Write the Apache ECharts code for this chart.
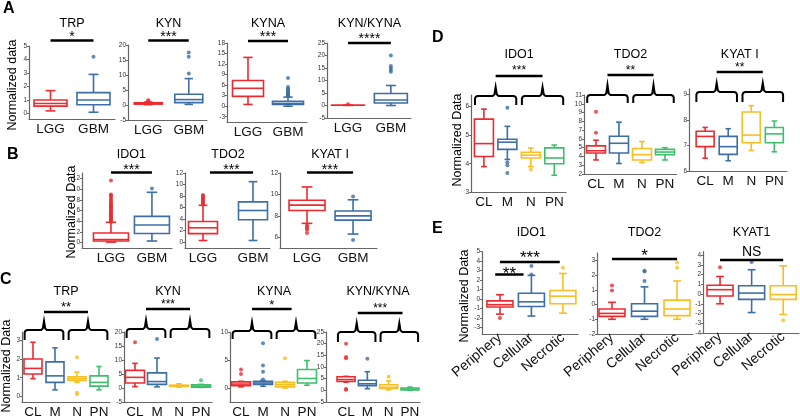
<!DOCTYPE html>
<html><head><meta charset="utf-8">
<script src="https://cdn.jsdelivr.net/npm/echarts@6/dist/echarts.min.js"></script>
<style>html,body{margin:0;padding:0;background:#fff}#c{width:800px;height:419px}</style>
</head><body><div id="c"></div>
<script>
// ---------- categories ----------
const catsGlioma = ['LGG', 'GBM'];
const catsSubtype = ['CL', 'M', 'N', 'PN'];
const catsRegion = ['Periphery', 'Cellular', 'Necrotic'];

// ---------- box stats [min, Q1, median, Q3, max] and outliers ----------
// Panel A
const A_TRP_box = [[0.2, 0.55, 0.75, 1.0, 1.7], [0.1, 0.65, 1.0, 1.55, 2.9]];
const A_TRP_out = [[], [4.2]];
const A_KYN_box = [[0.1, 0.3, 0.5, 0.75, 1.0], [0.2, 0.8, 1.8, 3.6, 8.8]];
const A_KYN_out = [[1.3, 1.6], [10.5, 16.1, 17.5]];
const A_KYNA_box = [[0.5, 2.8, 5.1, 7.3, 13.9], [0.0, 0.5, 0.8, 1.4, 2.6]];
const A_KYNA_out = [[], [2.8, 3.0, 3.2, 3.4, 3.6, 3.8, 4.0, 4.3, 4.6, 5.0, 5.5, 8.0]];
const A_RATIO_box = [[0.05, 0.08, 0.1, 0.12, 0.15], [0.0, 1.0, 2.2, 4.8, 8.0]];
const A_RATIO_out = [[0.5], [13.5, 14.2, 15.0, 15.8, 20.0]];
// Panel B
const B_IDO1_box = [[0.1, 0.3, 0.6, 1.8, 3.8], [0.3, 1.7, 3.3, 4.9, 9.4]];
const B_IDO1_out = [[3.9, 4.1, 4.3, 4.5, 4.7, 4.9, 5.1, 5.3, 5.5, 5.7, 5.9, 6.1, 6.3, 6.5, 6.7, 6.9, 7.1, 7.3, 7.6, 7.9, 8.2, 8.5, 8.8, 9.0, 11.6], [10.1]];
const B_TDO2_box = [[0.3, 1.5, 2.5, 3.6, 6.4], [0.3, 3.9, 5.5, 7.0, 10.5]];
const B_TDO2_out = [[6.6, 6.8, 7.0, 7.2, 7.4, 7.6, 7.8, 8.0, 8.2], []];
const B_KYAT_box = [[7.3, 8.5, 9.0, 9.45, 10.7], [6.3, 7.6, 8.0, 8.45, 9.5]];
const B_KYAT_out = [[7.15, 7.0, 6.85, 6.7, 6.4], [5.75, 9.8]];
// Panel C
const C_TRP_box = [[0.95, 1.2, 1.5, 2.0, 2.9], [0.35, 0.75, 1.1, 1.85, 2.6], [0.75, 0.85, 0.95, 1.05, 1.3], [0.35, 0.55, 0.75, 1.1, 1.6]];
const C_TRP_out = [[], [], [2.1, 0.2, 0.12], []];
const C_KYN_box = [[0.5, 1.8, 3.8, 6.3, 8.8], [0.4, 1.3, 2.3, 5.4, 10.7], [0.3, 0.6, 0.8, 1.0, 1.5], [0.2, 0.3, 0.6, 1.1, 1.3]];
const C_KYN_out = [[16.3], [17.5], [], [2.8]];
const C_KYNA_box = [[0.2, 0.4, 0.7, 1.1, 1.2], [0.3, 0.65, 0.9, 1.2, 1.35], [0.0, 0.2, 0.6, 1.0, 1.2], [0.5, 0.9, 1.7, 3.3, 4.9]];
const C_KYNA_out = [[2.5, 3.3], [1.5, 2.9, 4.0, 8.0], [5.3], []];
const C_RATIO_box = [[3.5, 3.8, 4.6, 5.8, 6.0], [0.7, 2.0, 2.8, 4.3, 8.0], [0.2, 0.8, 1.3, 2.4, 4.0], [0.0, 0.2, 0.5, 1.0, 1.4]];
const C_RATIO_out = [[0.3, 0.6, 13.8, 14.3, 20.0], [13.5], [5.8], []];
// Panel D
const D_IDO1_box = [[3.9, 4.25, 4.7, 5.55, 5.9], [4.15, 4.5, 4.75, 4.85, 5.3], [3.9, 4.2, 4.3, 4.4, 4.55], [3.6, 4.0, 4.2, 4.55, 4.65]];
const D_IDO1_out = [[], [5.95, 4.05, 3.95, 3.68], [3.8], []];
const D_TDO2_box = [[3.6, 4.4, 4.65, 5.2, 5.85], [3.2, 4.4, 5.5, 6.3, 7.9], [3.3, 3.6, 4.2, 4.9, 5.7], [3.6, 4.2, 4.5, 4.8, 5.0]];
const D_TDO2_out = [[6.7, 9.1], [], [], []];
const D_KYAT_box = [[6.5, 6.95, 7.35, 7.55, 7.7], [6.4, 6.65, 6.95, 7.35, 7.65], [6.8, 7.1, 7.4, 8.3, 8.55], [6.75, 7.1, 7.45, 7.7, 7.95]];
const D_KYAT_out = [[], [], [], []];
// Panel E
const E_IDO1_box = [[-1.6, -0.85, -0.6, -0.2, 0.45], [-1.8, -0.8, -0.3, 0.6, 2.5], [-1.5, -0.5, 0.3, 0.9, 2.7]];
const E_IDO1_out = [[-2.0], [2.6, 3.5], [3.3]];
const E_TDO2_box = [[-1.0, -0.8, -0.6, -0.3, 0.15], [-1.0, -0.8, -0.45, 0.05, 1.2], [-1.0, -0.75, -0.3, 0.3, 1.6]];
const E_TDO2_out = [[0.95, 1.3], [1.6, 2.25, 2.3], [2.5, 2.85]];
const E_KYAT_box = [[-1.0, -0.2, 0.45, 0.9, 1.8], [-1.9, -0.55, 0.1, 0.85, 2.5], [-2.1, -0.55, -0.05, 0.85, 2.9]];
const E_KYAT_out = [[2.75], [3.3], [-2.7]];

// ---------- y tick labels ----------
const ticksA_TRP = [0, 1, 2, 3, 4, 5];
const ticksA_KYN = [-5, 0, 5, 10, 15, 20];
const ticksA_KYNA = [-3, 0, 3, 6, 9, 12, 15, 18];
const ticksA_RATIO = [-5, 0, 5, 10, 15, 20, 25];
const ticksB_IDO1 = [0, 2, 4, 6, 8, 10, 12];
const ticksB_TDO2 = [0, 2, 4, 6, 8, 10, 12];
const ticksB_KYAT = [6, 8, 10, 12];
const ticksC_TRP = [0, 1, 2, 3];
const ticksC_KYN = [-5, 0, 5, 10, 15, 20];
const ticksC_KYNA = [0, 5, 10];
const ticksC_RATIO = [-5, 0, 5, 10, 15, 20, 25];
const ticksD_IDO1 = [3, 4, 5, 6];
const ticksD_TDO2 = [2, 3, 4, 5, 6, 7, 8, 9, 10, 11];
const ticksD_KYAT = [6, 7, 8, 9];
const ticksE_IDO1 = [-3, -2, -1, 0, 1, 2, 3, 4, 5];
const ticksE_TDO2 = [-2, -1, 0, 1, 2, 3];
const ticksE_KYAT = [-4, -3, -2, -1, 0, 1, 2, 3, 4];

// ---------- styling ----------
const FF = '"Liberation Sans", Arial, Helvetica, sans-serif';
const RED = '#ee2a2f', BLUE = '#3c6ea7', YEL = '#fbbd22', GRN = '#3fbf6c';
const COL2 = [RED, BLUE], COL4 = [RED, BLUE, YEL, GRN], COL3 = [RED, BLUE, YEL];
const AX = '#666';

// layout: g = [left, right, top, bottom] in px; xr / yr axis ranges;
// sigs: [fromCat, toCat, lineY, text, textY, fontSize]; br: brace y [peak, mid, legs]
const plots = [
  {title:'TRP', cats:catsGlioma, box:A_TRP_box, out:A_TRP_out, ticks:ticksA_TRP, col:COL2, g:[29,115,46,119], xr:[-0.5,1.5], yr:[-0.4,5], bw:33, ty:24, sigs:[[0,1,40.5,'*',34,14]]},
  {title:'KYN', cats:catsGlioma, box:A_KYN_box, out:A_KYN_out, ticks:ticksA_KYN, col:COL2, g:[128,207,45,120], xr:[-0.5,1.45], yr:[-5,20], bw:28, ty:24, sigs:[[0,1,40.5,'***',34,14]]},
  {title:'KYNA', cats:catsGlioma, box:A_KYNA_box, out:A_KYNA_out, ticks:ticksA_KYNA, col:COL2, g:[227,307,43,122], xr:[-0.525,1.475], yr:[-4.5,18], bw:31, ty:24, sigs:[[0,1,41,'***',34,14]]},
  {title:'KYN/KYNA', cats:catsGlioma, box:A_RATIO_box, out:A_RATIO_out, ticks:ticksA_RATIO, col:COL2, g:[327,411,43,118], xr:[-0.49,1.47], yr:[-5,25], bw:33, ty:24, sigs:[[0,1,43,'****',36,14]]},

  {title:'IDO1', cats:catsGlioma, box:B_IDO1_box, out:B_IDO1_out, ticks:ticksB_IDO1, col:COL2, g:[82,172,173,248], xr:[-0.707,1.49], yr:[-1,13], bw:35, ty:155, sigs:[[0,1,172.5,'***',167,14]]},
  {title:'TDO2', cats:catsGlioma, box:B_TDO2_box, out:B_TDO2_out, ticks:ticksB_TDO2, col:COL2, g:[185,270,173,248], xr:[-0.36,1.34], yr:[-1,12], bw:29, ty:155, sigs:[[0.14,1,172.5,'***',167,14]]},
  {title:'KYAT I', cats:catsGlioma, box:B_KYAT_box, out:B_KYAT_out, ticks:ticksB_KYAT, col:COL2, g:[280,377,173,248], xr:[-0.587,1.52], yr:[5,12], bw:36, ty:155, sigs:[[0,1,172.5,'***',167,14]]},

  {title:'TRP', cats:catsSubtype, box:C_TRP_box, out:C_TRP_out, ticks:ticksC_TRP, col:COL4, g:[22,110,332,406], xr:[-0.5,3.5], yr:[-0.3,3.45], bw:18, ty:292, sigs:[[0.5,2.5,312,'**',304,13]], br:[321,330,340]},
  {title:'KYN', cats:catsSubtype, box:C_KYN_box, out:C_KYN_out, ticks:ticksC_KYN, col:COL4, g:[124,212,332,407], xr:[-0.5,3.5], yr:[-5,20], bw:19, ty:292, sigs:[[0.5,2.5,309,'***',302,12]], br:[320,329,338]},
  {title:'KYNA', cats:catsSubtype, box:C_KYNA_box, out:C_KYNA_out, ticks:ticksC_KYNA, col:COL4, g:[230,318,332,407], xr:[-0.5,3.5], yr:[-2.5,10], bw:19, ty:292, sigs:[[0.5,2.3,309,'*',302,13]], br:[322,331,339]},
  {title:'KYN/KYNA', cats:catsSubtype, box:C_RATIO_box, out:C_RATIO_out, ticks:ticksC_RATIO, col:COL4, g:[326,420,332,407], xr:[-0.94,3.47], yr:[-5,25], bw:18, ty:292, sigs:[[0.55,2.65,313,'***',306,12]], br:[323,332,342]},

  {title:'IDO1', cats:catsSubtype, box:D_IDO1_box, out:D_IDO1_out, ticks:ticksD_IDO1, col:COL4, g:[471,566,95,192.5], xr:[-0.55,3.5], yr:[3,6.39], bw:19, ty:55, sigs:[[0.5,2.5,76,'***',68,12]], br:[87,96,105]},
  {title:'TDO2', cats:catsSubtype, box:D_TDO2_box, out:D_TDO2_out, ticks:ticksD_TDO2, col:COL4, g:[584,676.5,95,174], xr:[-0.52,3.5], yr:[2,11], bw:19, ty:55, sigs:[[0.5,2.5,75,'**',68,12]], br:[85,95,103]},
  {title:'KYAT I', cats:catsSubtype, box:D_KYAT_box, out:D_KYAT_out, ticks:ticksD_KYAT, col:COL4, g:[689,787,89,171], xr:[-0.7,3.55], yr:[6,9.2], bw:18, ty:55, sigs:[[0.5,2.5,72,'**',65,12]], br:[83,92,102]},

  {title:'IDO1', cats:catsRegion, box:E_IDO1_box, out:E_IDO1_out, ticks:ticksE_IDO1, col:COL3, g:[482,578,251.7,334], xr:[-0.57,2.48], yr:[-3.7,5], bw:26, ty:233, rot:40, sigs:[[-0.15,0.75,274.5,'**',270,17],[0,1.9,262,'***',254,17]]},
  {title:'TDO2', cats:catsRegion, box:E_TDO2_box, out:E_TDO2_out, ticks:ticksE_TDO2, col:COL3, g:[597,693,253,334], xr:[-0.46,2.49], yr:[-2,3.5], bw:26, ty:233, rot:40, sigs:[[0,2,259,'*',252,17]]},
  {title:'KYAT1', cats:catsRegion, box:E_KYAT_box, out:E_KYAT_out, ticks:ticksE_KYAT, col:COL3, g:[703,799,251.7,333], xr:[-0.54,2.5], yr:[-4,4.35], bw:26, ty:233, rot:40, sigs:[[0,2,260,'NS',252,14]]}
];

const yLabels = [
  {t:'Normalized data', x:13, y:85},
  {t:'Normalized Data', x:72, y:212},
  {t:'Normalized Data', x:7, y:366},
  {t:'Normalized Data', x:458, y:140},
  {t:'Normalized Data', x:465, y:296}
];
const letters = [
  {t:'A', x:3, y:8.5}, {t:'B', x:7, y:155}, {t:'C', x:0, y:280}, {t:'D', x:432, y:37.5}, {t:'E', x:432, y:229}
];

function boxRenderer(p) {
  return function (params, api) {
    const k = api.value(0);
    const c = p.col[k];
    const P = [1, 2, 3, 4, 5].map(d => api.coord([k, api.value(d)]));
    const cx = P[0][0], hw = p.bw / 2, cw = p.bw * 0.15;
    const st = () => ({stroke: c, lineWidth: 1.6, fill: null});
    const line = (x1, y1, x2, y2) => ({type: 'line', shape: {x1, y1, x2, y2}, style: st()});
    return {type: 'group', children: [
      line(cx, P[3][1], cx, P[4][1]),
      line(cx, P[0][1], cx, P[1][1]),
      line(cx - cw, P[4][1], cx + cw, P[4][1]),
      line(cx - cw, P[0][1], cx + cw, P[0][1]),
      {type: 'rect', shape: {x: cx - hw, y: P[3][1], width: p.bw, height: P[1][1] - P[3][1]}, style: {stroke: c, lineWidth: 1.6, fill: '#fff'}},
      line(cx - hw, P[2][1], cx + hw, P[2][1])
    ]};
  };
}

const chart = echarts.init(document.getElementById('c'), null, {renderer: 'canvas'});
const option = {animation: false, backgroundColor: '#fff', grid: [], xAxis: [], yAxis: [], series: []};
plots.forEach((p, i) => {
  const [l, r, t, b] = p.g;
  option.grid.push({left: l, top: t, width: r - l, height: b - t});
  option.xAxis.push({
    type: 'value', gridIndex: i, min: p.xr[0], max: p.xr[1],
    splitLine: {show: false}, axisTick: {show: false},
    axisLine: {show: true, onZero: false, lineStyle: {color: AX, width: 1.2}},
    axisLabel: {customValues: p.cats.map((c, k) => k), formatter: v => p.cats[Math.round(v)] || '',
      fontSize: p.rot ? 14 : 13.5, color: '#111', margin: p.rot ? 2 : 3, rotate: p.rot || 0, fontFamily: FF}
  });
  option.yAxis.push({
    type: 'value', gridIndex: i, min: p.yr[0], max: p.yr[1], splitLine: {show: false},
    axisLine: {show: true, onZero: false, lineStyle: {color: AX, width: 1.2}},
    axisTick: {show: true, length: 2, customValues: p.ticks, lineStyle: {color: AX}},
    axisLabel: {customValues: p.ticks, fontSize: 6.5, color: '#333', margin: 2, fontFamily: FF}
  });
  option.series.push({type: 'custom', xAxisIndex: i, yAxisIndex: i,
    data: p.box.map((s, k) => [k].concat(s)), encode: {x: 0, y: [1, 2, 3, 4, 5]},
    renderItem: boxRenderer(p), silent: true, z: 2, clip: false});
  const pts = [];
  p.out.forEach((arr, k) => arr.forEach(v => pts.push([k, v])));
  option.series.push({type: 'scatter', xAxisIndex: i, yAxisIndex: i, data: pts, symbolSize: 4,
    itemStyle: {color: q => p.col[q.data[0]]}, silent: true, z: 3});
});
chart.setOption(option);

// ---------- annotations positioned through the axes ----------
const G = [];
const xpx = (i, x) => chart.convertToPixel({gridIndex: i}, [x, plots[i].yr[0]])[0];
function txt(t, x, y, fs, opts) {
  opts = opts || {};
  G.push({type: 'text', x: x, y: y, rotation: opts.rot || 0, silent: true, z: 10,
    style: {text: t, fill: '#000', fontSize: fs, fontFamily: FF, fontWeight: opts.bold ? 'bold' : 'normal',
      align: opts.align || 'center', verticalAlign: 'middle', textAlign: opts.align || 'center', textVerticalAlign: 'middle'}});
}
plots.forEach((p, i) => {
  const mid = xpx(i, (p.cats.length - 1) / 2);
  txt(p.title, mid, p.ty, 12.5);
  p.sigs.forEach(s => {
    const x1 = xpx(i, s[0]), x2 = xpx(i, s[1]);
    G.push({type: 'line', silent: true, z: 10, shape: {x1: x1, y1: s[2], x2: x2, y2: s[2]}, style: {stroke: '#000', lineWidth: 2.5}});
    const isStar = s[3].indexOf('*') >= 0;
    txt(s[3], (x1 + x2) / 2, s[4] + (isStar ? 0.23 * s[5] : 0), s[5]);
  });
  if (p.br) {
    const [yp, ym, yl] = p.br;
    [0.5, 2.5].forEach(c => {
      const xl = xpx(i, c - 0.88), xr = xpx(i, c + 0.88), xc = xpx(i, c);
      const pts = [[xl, yl], [xl, ym + 2.5], [xl + 0.8, ym + 0.8], [xl + 2.5, ym],
        [xc - 3, ym], [xc - 1.2, ym - 1.5], [xc, yp],
        [xc + 1.2, ym - 1.5], [xc + 3, ym],
        [xr - 2.5, ym], [xr - 0.8, ym + 0.8], [xr, ym + 2.5], [xr, yl]];
      G.push({type: 'polyline', silent: true, z: 10, shape: {points: pts}, style: {stroke: '#000', lineWidth: 2, fill: null}});
    });
  }
});
yLabels.forEach(l => txt(l.t, l.x, l.y, 12.5, {rot: Math.PI / 2}));
letters.forEach(l => txt(l.t, l.x, l.y, 16, {bold: true, align: 'left'}));
chart.setOption({graphic: G});
</script>
</body></html>
